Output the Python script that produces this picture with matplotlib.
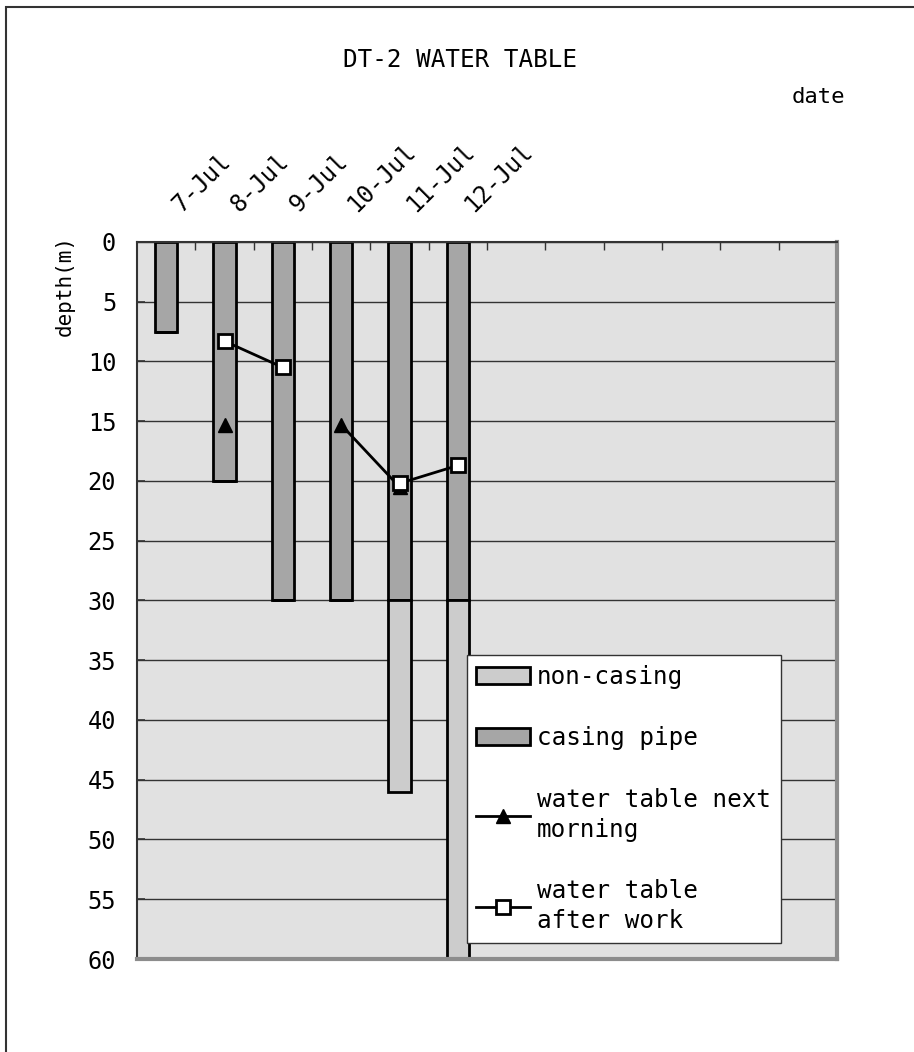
import numpy as np
import matplotlib
matplotlib.use("Agg")
import matplotlib.pyplot as plt
from matplotlib.patches import Rectangle, Patch
from matplotlib.lines import Line2D

# === Data ===
dates = ["7-Jul", "8-Jul", "9-Jul", "10-Jul", "11-Jul", "12-Jul"]
casing_depth = [7.5, 20, 30, 30, 30, 30]          # casing pipe bottom (m)
total_depth = [7.5, 20, 30, 30, 46, 60]           # hole bottom (m)
wt_next_morning = [np.nan, 15.3, np.nan, 15.3, 20.5, np.nan]
wt_after_work = [np.nan, 8.3, 10.5, np.nan, 20.2, 18.7]

# === Style ===
plt.rcParams['font.family'] = ['DejaVu Sans Mono', 'DejaVu Sans']
n_slots = 12
bar_width = 0.38
col_bg = '#e1e1e1'
col_casing = '#a6a6a6'
col_noncasing = '#cccccc'

fig = plt.figure(figsize=(9.14, 10.52), dpi=100)
ax = fig.add_axes([0.1499, 0.0884, 0.7659, 0.6816])
ax.set_facecolor(col_bg)

x = np.arange(len(dates)) + 0.5
casing = np.array(casing_depth)
noncasing = np.array(total_depth) - casing

ax.bar(x, casing, width=bar_width, color=col_casing, edgecolor='black',
       linewidth=2, zorder=2)
ax.bar(x, noncasing, width=bar_width, bottom=casing, color=col_noncasing,
       edgecolor='black', linewidth=2, zorder=2)

ax.plot(x, wt_next_morning, color='black', lw=2, marker='^', ms=10.5,
        mfc='black', mec='black', zorder=4)
ax.plot(x, wt_after_work, color='black', lw=2, marker='s', ms=9.5,
        mfc='white', mec='black', mew=2, zorder=5)

# axes
ax.set_xlim(0, n_slots)
ax.set_ylim(60, 0)
ax.set_yticks(np.arange(0, 61, 5))
ax.tick_params(axis='y', direction='in', length=6, width=1.2, pad=15,
               labelsize=17, color='#333333')
ax.yaxis.grid(True, color='#333333', linewidth=1.0)
ax.set_axisbelow(True)

ax.xaxis.tick_top()
ax.set_xticks(np.arange(1, n_slots))
ax.set_xticklabels([])
ax.tick_params(axis='x', direction='in', length=6, width=1.0, color='#333333')

for i, lab in enumerate(dates):
    ax.annotate(lab, xy=(x[i], 1), xycoords=('data', 'axes fraction'),
                xytext=(11, 21), textcoords='offset points', rotation=45,
                rotation_mode='anchor', ha='left', va='baseline', fontsize=17)

for side in ['top', 'left']:
    ax.spines[side].set_color('#333333')
    ax.spines[side].set_linewidth(1.5)
for side in ['right', 'bottom']:
    ax.spines[side].set_color('#8c8c8c')
    ax.spines[side].set_linewidth(3)

# legend
handles = [
    Patch(facecolor=col_noncasing, edgecolor='black', linewidth=2),
    Patch(facecolor=col_casing, edgecolor='black', linewidth=2),
    Line2D([], [], color='black', lw=2, marker='^', ms=10.5, mfc='black'),
    Line2D([], [], color='black', lw=2, marker='s', ms=9.5, mfc='white', mew=2),
]
labels = ["non-casing", "casing pipe", "water table next\nmorning",
          "water table\nafter work"]
leg = ax.legend(handles, labels, loc='upper left', bbox_to_anchor=(0.471, 0.424),
                borderaxespad=0, fontsize=17.5, frameon=True, fancybox=False,
                framealpha=1, edgecolor='#333333', handlelength=2.2,
                handletextpad=0.3, borderpad=0.4, labelspacing=1.55,
                numpoints=1)
leg.get_frame().set_linewidth(1.0)
leg.set_zorder(10)
for t in leg.get_texts():
    t.set_linespacing(1.3)

# titles
fig.text(0.503, 1 - 60 / 1052, "DT-2 WATER TABLE", ha='center', va='center',
         fontsize=17.5)
fig.text(818 / 914, 1 - 97 / 1052, "date", ha='center', va='center', fontsize=16)
fig.text(65 / 914, 1 - 285 / 1052, "depth(m)", rotation=90, ha='center',
         va='center', fontsize=15)

# chart border (runs off the right and bottom edges, as in the original)
fig.patches.append(Rectangle((6 / 914, -0.01), 1.0, 0.99335 + 0.01,
                             transform=fig.transFigure, fill=False,
                             edgecolor='#333333', linewidth=1.5))

plt.savefig("out.png", dpi=100)
